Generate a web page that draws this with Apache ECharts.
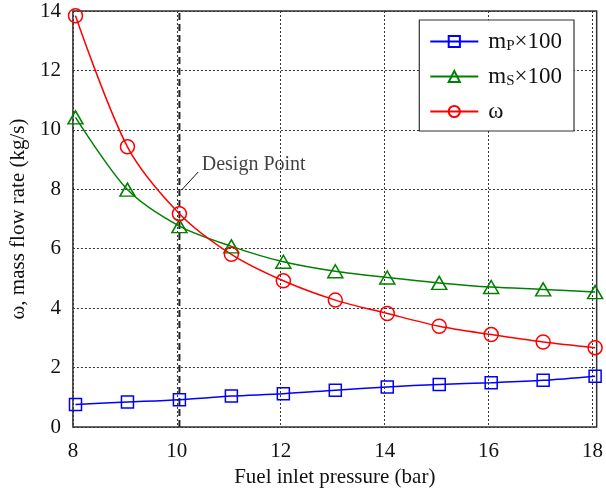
<!DOCTYPE html>
<html><head><meta charset="utf-8">
<script src="https://cdn.jsdelivr.net/npm/echarts@6/dist/echarts.min.js"></script>
<style>html,body{margin:0;padding:0;background:#fff}#c{width:606px;height:494px}</style>
</head><body><div id="c"></div>
<script>
const pressure = [8.05, 9.05, 10.05, 11.05, 12.05, 13.05, 14.05, 15.05, 16.05, 17.05, 18.05];
const mP100 = [0.76, 0.84, 0.92, 1.04, 1.12, 1.24, 1.35, 1.43, 1.49, 1.57, 1.71];
const mS100 = [10.42, 7.99, 6.76, 6.08, 5.56, 5.24, 5.03, 4.85, 4.71, 4.63, 4.54];
const omega = [13.84, 9.43, 7.18, 5.81, 4.92, 4.27, 3.82, 3.39, 3.11, 2.86, 2.67];
const designX = 10.05;
const xTicks = [8, 10, 12, 14, 16, 18];

const font = 'Liberation Serif';
const pair = (xs, ys) => xs.map((x, i) => [x, ys[i]]);
const chart = echarts.init(document.getElementById('c'));
const mkSeries = (name, data, color, symbol, size) => ({
  name, type: 'line', data: pair(pressure, data), smooth: 0.3,
  symbol, symbolSize: size, showSymbol: true,
  itemStyle: { color: 'rgba(0,0,0,0)', borderColor: color, borderWidth: 1.5 },
  lineStyle: { color: color, width: 1.5 },
  emphasis: { disabled: true }, z: 3
});
const s1 = mkSeries('mP', mP100, '#0000ff', 'rect', 12);
const s2 = mkSeries('mS', mS100, '#008000', 'triangle', [15, 13]);
const s3 = mkSeries('w', omega, '#ff0000', 'circle', 14);

chart.setOption({
  animation: false,
  backgroundColor: '#fff',
  textStyle: { fontFamily: font },
  grid: { left: 71, right: 6, top: 11, bottom: 67, show: true, borderColor: '#333', borderWidth: 1.5 },
  legend: {
    right: 32, top: 20, orient: 'vertical',
    backgroundColor: '#fff', borderColor: '#333', borderWidth: 1.2, borderRadius: 0,
    padding: [10, 12, 8, 10], itemGap: 11, itemWidth: 48, itemHeight: 14,
    data: ['mP', 'mS', 'w'],
    textStyle: {
      fontFamily: font, fontSize: 23, color: '#111', padding: [0, 0, 0, 5],
      rich: {
        m: { fontFamily: font, fontSize: 23, color: '#111' },
        sub: { fontFamily: font, fontSize: 15, color: '#111', padding: [10, 0, 0, 0] }
      }
    },
    formatter: n => n === 'mP' ? '{m|m}{sub|P}{m|×100}' : n === 'mS' ? '{m|m}{sub|S}{m|×100}' : '{m|ω}'
  },
  xAxis: {
    type: 'value', min: 8, max: 18.08, interval: 2,
    name: 'Fuel inlet pressure (bar)', nameLocation: 'middle', nameGap: 40,
    nameTextStyle: { fontFamily: font, fontSize: 21, color: '#111' },
    axisLine: { show: false },
    axisTick: { show: false },
    axisLabel: { fontFamily: font, fontSize: 21, color: '#111', margin: 14,
      customValues: xTicks, formatter: v => String(v) },
    splitLine: { show: true, lineStyle: { color: '#333', type: [2, 2], width: 1 } }
  },
  yAxis: {
    type: 'value', min: 0, max: 14, interval: 2,
    name: 'ω, mass flow rate (kg/s)', nameLocation: 'middle', nameGap: 38,
    nameTextStyle: { fontFamily: font, fontSize: 21, color: '#111' },
    axisLine: { show: false },
    axisTick: { show: false },
    axisLabel: { fontFamily: font, fontSize: 21, color: '#111', margin: 12 },
    splitLine: { show: true, lineStyle: { color: '#333', type: [2, 2], width: 1 } }
  },
  series: [
    {
      name: 'design', type: 'line', data: [[designX, 0], [designX, 14]],
      symbol: 'none', lineStyle: { color: '#222', width: 2, type: [7, 4] },
      emphasis: { disabled: true }, z: 2, silent: true
    },
    {
      name: 'leader', type: 'line', data: [[10.09, 7.97], [10.41, 8.58]],
      symbol: 'none', lineStyle: { color: '#111', width: 1 }, z: 2, silent: true
    },
    {
      name: 'label', type: 'scatter', data: [[10.48, 8.81]], symbolSize: 0,
      label: { show: true, position: 'right', distance: 0, formatter: 'Design Point',
        fontFamily: font, fontSize: 20, color: '#111' },
      z: 4, silent: true
    },
    s1, s2, s3
  ]
});
</script></body></html>
